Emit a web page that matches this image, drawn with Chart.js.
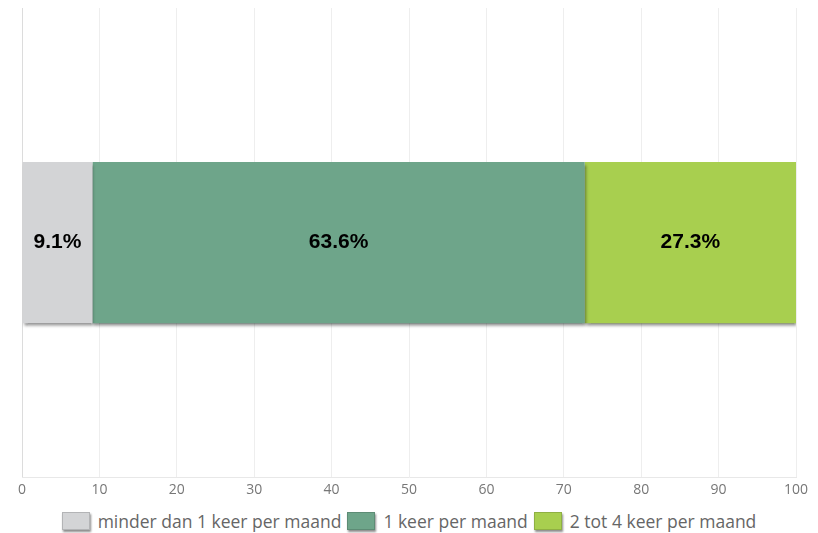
<!DOCTYPE html>
<html>
<head>
<meta charset="utf-8">
<script src="https://cdn.jsdelivr.net/npm/chart.js"></script>
<style>
  html, body { margin: 0; padding: 0; background: #fff; }
  #wrap { position: relative; width: 818px; height: 533px; }
  #chart-box { position: absolute; left: 0; top: 0; width: 818px; height: 502px; }
  #legend {
    position: absolute; left: 0; top: 509px; width: 818px;
    display: flex; justify-content: center; align-items: center;
    font-family: "Open Sans", sans-serif; font-size: 17.5px; color: #666;
  }
  .item { display: flex; align-items: center; margin: 0 3px; }
  .swatch {
    width: 26px; height: 16px; margin-right: 8px;
    border: 1px solid rgba(0,0,0,0.15);
    box-shadow: 1px 2px 2px rgba(0,0,0,0.45);
  }
</style>
</head>
<body>
<div id="wrap">
  <div id="chart-box"><canvas id="freq-chart"></canvas></div>
  <div id="legend"></div>
</div>
<script>
// ---- data ----
const categories = [''];
const seriesNames = ['minder dan 1 keer per maand', '1 keer per maand', '2 tot 4 keer per maand'];
const seriesValues = [[9.1], [63.6], [27.3]];
const seriesColors = ['#d3d4d6', '#6ea58a', '#a8cf4f'];
const xTicks = [0, 10, 20, 30, 40, 50, 60, 70, 80, 90, 100];

// bar shadow + percent labels
const barDecor = {
  id: 'barDecor',
  beforeDatasetsDraw(chart) {
    const c = chart.ctx;
    c.save();
    c.shadowColor = 'rgba(0,0,0,0.45)';
    c.shadowOffsetX = 1;
    c.shadowOffsetY = 3;
    c.shadowBlur = 3;
  },
  afterDatasetsDraw(chart) {
    const c = chart.ctx;
    c.restore();
    c.save();
    c.font = 'bold 21px "Liberation Sans", Arial, sans-serif';
    c.fillStyle = '#000';
    c.textAlign = 'center';
    c.textBaseline = 'middle';
    chart.data.datasets.forEach((ds, i) => {
      chart.getDatasetMeta(i).data.forEach((bar, j) => {
        const mid = (bar.x + bar.base) / 2;
        c.fillText(ds.data[j].toFixed(1) + '%', mid, bar.y);
      });
    });
    c.restore();
  }
};

const ctx = document.getElementById('freq-chart');
const freqChart = new Chart(ctx.getContext('2d'), {
  type: 'bar',
  data: {
    labels: categories,
    datasets: seriesNames.map((name, i) => ({
      label: name,
      data: seriesValues[i],
      backgroundColor: seriesColors[i],
      borderWidth: 0,
      barPercentage: 0.344,
      categoryPercentage: 1.0,
    })),
  },
  options: {
    indexAxis: 'y',
    responsive: true,
    maintainAspectRatio: false,
    animation: false,
    layout: { padding: { left: 22, right: 22, top: 8, bottom: 0 } },
    plugins: {
      legend: { display: false },
      tooltip: { enabled: false },
    },
    scales: {
      x: {
        stacked: true,
        min: 0,
        max: 100,
        afterBuildTicks: (axis) => { axis.ticks = xTicks.map(v => ({ value: v })); },
        ticks: {
          color: '#777',
          font: { family: '"Open Sans", sans-serif', size: 14 },
          padding: 4,
        },
        grid: {
          color: (c) => c.index === 0 ? '#dcdcdc' : '#eeeeee',
          drawTicks: false,
        },
        border: { display: true, color: '#e8e8e8' },
      },
      y: {
        stacked: true,
        display: false,
      },
    },
  },
  plugins: [barDecor],
});

// html legend
const legendEl = document.getElementById('legend');
seriesNames.forEach((name, i) => {
  const item = document.createElement('div');
  item.className = 'item';
  const sw = document.createElement('span');
  sw.className = 'swatch';
  sw.style.background = seriesColors[i];
  const txt = document.createElement('span');
  txt.textContent = name;
  item.appendChild(sw);
  item.appendChild(txt);
  legendEl.appendChild(item);
});
</script>
</body>
</html>
